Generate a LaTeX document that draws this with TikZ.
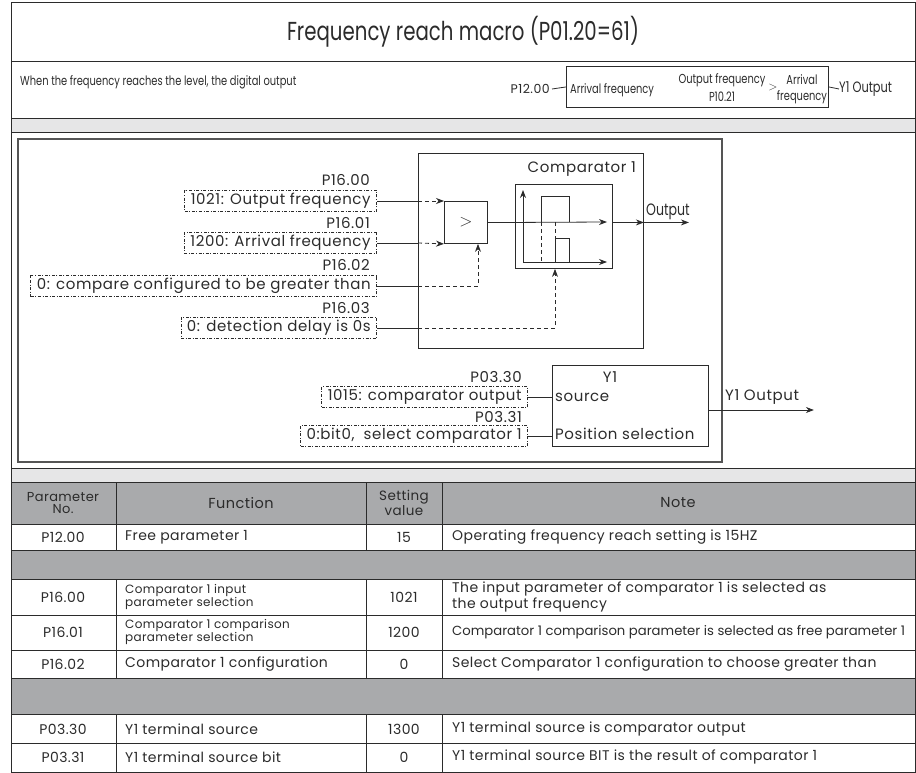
\documentclass[tikz,border=0pt]{standalone}
\usepackage{fontspec}
\setmainfont{Poppins}
\newfontfamily\condfont[FakeStretch=0.76]{Poppins}
\newfontfamily\diafont[LetterSpace=4]{Poppins}
\newfontfamily\tabfont[LetterSpace=3]{Poppins}
\newfontfamily\tabnarrow{Poppins}
\usetikzlibrary{arrows.meta,calc}
\definecolor{ink}{HTML}{2B2B2B}
\definecolor{lightband}{HTML}{E6E6E7}
\definecolor{darkband}{HTML}{A9AAAC}
\definecolor{framegray}{HTML}{555555}
\newcommand\myfs[1]{\fontsize{#1}{#1}\selectfont}
\begin{document}
\begin{tikzpicture}[x=1pt,y=-1pt, line join=miter,
  every node/.style={inner sep=0pt, text=ink},
  frame/.style={draw=ink, line width=1pt},
  conn/.style={draw=ink, line width=0.8pt},
  dconn/.style={conn, dash pattern=on 4pt off 3pt},
  tip/.style={-{Stealth[length=8pt,width=6pt]}},
  dbox/.style={draw=ink, line width=0.7pt, dash pattern=on 3pt off 1.6pt on 0.9pt off 1.6pt, inner xsep=6pt, minimum height=21pt, font=\diafont\myfs{15}},
  plabel/.style={anchor=east, font=\diafont\myfs{15}},
  dtext/.style={font=\diafont\myfs{15}},
  blk/.style={draw=ink, line width=0.9pt, anchor=north west},
  hdr/.style={font=\condfont\myfs{13}},
  cell/.style={font=\tabfont\myfs{14}},
  lcell/.style={font=\tabfont\myfs{14}, anchor=west},
  small/.style={font=\tabfont\fontsize{12}{11.5}\selectfont, anchor=west, align=left},
]
\useasboundingbox (0,0) rectangle (916,773);

% ---------- bands ----------
\fill[lightband] (11,119) rectangle (915,133);
\fill[lightband] (11,468) rectangle (915,482);
\fill[darkband] (11,482) rectangle (915,524);
\fill[darkband] (11,550) rectangle (915,579);
\fill[darkband] (11,678) rectangle (915,714);

% ---------- frame and rules ----------
\draw[frame] (11,3) rectangle (915,772);
\foreach \yy in {62,119,133,468,482,524,550,579,615,650,678,714,743}
  \draw[frame] (11,\yy) -- (915,\yy);
\foreach \xx in {116,366,442}{
  \draw[frame] (\xx,482) -- (\xx,550);
  \draw[frame] (\xx,579) -- (\xx,678);
  \draw[frame] (\xx,714) -- (\xx,772);
}
\draw[draw=framegray, line width=1.2pt] (18,139) rectangle (722,462);

% ---------- title ----------
\node[font=\condfont\myfs{26}] (title) at (463,32) {Frequency reach macro (P01.20=61)};

% ---------- header row ----------
\node[anchor=west, hdr] (intro) at (20,82) {When the frequency reaches the level, the digital output};
\node[anchor=east, font=\diafont\myfs{12.5}] (p1200) at (550,89) {P12.00};
\node[blk, minimum width=262pt, minimum height=41pt] (fbox) at (566,66) {};
\draw[conn] (p1200.east) ++(2,0) -- (fbox.west);
\node[anchor=west, hdr] (arr1) at (570,90) {Arrival frequency};
\node[hdr] (outf) at (722,80) {Output frequency};
\node[hdr] (p1021) at (722,97) {P10.21};
\node[hdr] (gtsym) at (773,88) {$>$};
\node[hdr] (arr2a) at (802,80) {Arrival};
\node[hdr] (arr2b) at (802,97) {frequency};
\node[anchor=west, font=\condfont\myfs{15}] (y1top) at (839,89) {Y1 Output};
\draw[conn] (fbox.east) -- (y1top.west);

% ---------- comparator ----------
\node[blk, minimum width=225pt, minimum height=195pt] (cmp) at (418,153) {};
\node[anchor=east, dtext] (cmplbl) at (636,169) {Comparator 1};
\node[blk, minimum width=43pt, minimum height=42pt] (gt) at (444,201) {};
\node[font=\myfs{17}] (gtch) at (gt.center) {$>$};
\node[blk, minimum width=97pt, minimum height=84pt] (hyst) at (515,184) {};

% inputs
\node[dbox, anchor=east] (b1) at (377,201) {1021: Output frequency};
\node[plabel] (l1) at (370,180) {P16.00};
\node[dbox, anchor=east] (b2) at (377,243) {1200: Arrival frequency};
\node[plabel] (l2) at (370,223) {P16.01};
\node[dbox, anchor=east] (b3) at (377,286) {0: compare configured to be greater than};
\node[plabel] (l3) at (370,265) {P16.02};
\node[dbox, anchor=east] (b4) at (377,328) {0: detection delay is 0s};
\node[plabel] (l4) at (370,308) {P16.03};

\draw[conn] (b1.east) -- (b1.east -| cmp.west);
\draw[dconn,tip] (b1.east -| cmp.west) -- (gt.north west);
\draw[conn] (b2.east) -- (b2.east -| cmp.west);
\draw[dconn,tip] (b2.east -| cmp.west) -- (gt.south west);
\coordinate (gtin) at ($(gt.south west)+(34,0)$);
\draw[conn] (b3.east) -- (b3.east -| cmp.west);
\draw[dconn,tip] (b3.east -| cmp.west) -- (b3.east -| gtin) -- (gtin);
\coordinate (hyin) at ($(hyst.south west)+(40,0)$);
\draw[conn] (b4.east) -- (b4.east -| cmp.west);
\draw[dconn,tip] (b4.east -| cmp.west) -- (b4.east -| hyin) -- (hyin);

% gt -> hysteresis
\coordinate (hyl) at (gt.east -| hyst.west);
\draw[conn] (gt.east) -- (hyl);
\draw[conn,tip] (523,262) -- (523,190);
\draw[conn,tip] (hyl) -- (607,222);
\draw[conn,tip] (523,262) -- (607,262);
\draw[conn] (541,222) -- (541,196) -- (569,196) -- (569,222);
\draw[dconn] (541,222) -- (541,262);
\draw[conn] (555,262) -- (555,238) -- (569,238) -- (569,262);
\draw[dconn] (555,222) -- (555,238);

% output
\coordinate (hyr) at (gt.east -| hyst.east);
\coordinate (cmpr) at (gt.east -| cmp.east);
\coordinate (outend) at ($(cmpr)+(45,0)$);
\draw[conn,tip] (hyr) -- (cmpr);
\draw[conn,tip] (cmpr) -- (outend);
\node[anchor=west, font=\condfont\myfs{16.5}] (outlbl) at (646,212) {Output};

% ---------- Y1 block ----------
\node[blk, minimum width=156pt, minimum height=81pt] (y1) at (552,365) {};
\node[dtext] (y1t) at (610,377) {Y1};
\node[dtext, anchor=west] (src) at (555,397) {source};
\node[dtext, anchor=west] (pos) at (555,434) {Position selection};
\node[dbox, anchor=east] (b5) at (528,397) {1015: comparator output};
\node[plabel] (l5) at (522,377) {P03.30};
\node[dbox, anchor=east] (b6) at (528,436) {0:bit0,\ \ select comparator 1};
\node[plabel] (l6) at (522,417) {P03.31};
\draw[conn] (b5.east) -- (b5.east -| y1.west);
\draw[conn] (b6.east) -- (b6.east -| y1.west);
\coordinate (y1o) at ($(y1.north east)+(0,45)$);
\coordinate (y1e) at ($(y1o)+(105,0)$);
\draw[conn,tip] (y1o) -- (y1e);
\node[dtext, anchor=west] (y1lbl) at (725,397) {Y1 Output};

% ---------- table ----------
\node[align=center, font=\tabfont\fontsize{13}{12.5}\selectfont] (h1) at (63,503) {Parameter\\No.};
\node[font=\tabfont\myfs{14.5}] (h2) at (241,503) {Function};
\node[align=center, font=\tabfont\fontsize{13.5}{12.5}\selectfont] (h3) at (404,503) {Setting\\value};
\node[font=\tabfont\myfs{14.5}] (h4) at (678,503) {Note};

\node[cell] (r1a) at (63,537) {P12.00};
\node[lcell] (r1b) at (125,537) {Free parameter 1};
\node[cell] (r1c) at (404,537) {15};
\node[lcell] (r1d) at (452,537) {Operating frequency reach setting is 15HZ};

\node[cell] (r2a) at (63,597) {P16.00};
\node[small] (r2b) at (125,597) {Comparator 1 input\\parameter selection};
\node[cell] (r2c) at (404,597) {1021};
\node[lcell, align=left, font=\tabfont\fontsize{14}{13.5}\selectfont] (r2d) at (452,597) {The input parameter of comparator 1 is selected as\\the output frequency};

\node[cell] (r3a) at (63,632) {P16.01};
\node[small] (r3b) at (125,632) {Comparator 1 comparison\\parameter selection};
\node[cell] (r3c) at (404,632) {1200};
\node[anchor=west, font=\tabnarrow\myfs{13.2}] (r3d) at (452,632) {Comparator 1 comparison parameter is selected as free parameter 1};

\node[cell] (r4a) at (63,664) {P16.02};
\node[lcell] (r4b) at (125,664) {Comparator 1 configuration};
\node[cell] (r4c) at (404,664) {0};
\node[lcell] (r4d) at (452,664) {Select Comparator 1 configuration to choose greater than};

\node[cell] (r5a) at (63,729) {P03.30};
\node[lcell] (r5b) at (125,729) {Y1 terminal source};
\node[cell] (r5c) at (404,729) {1300};
\node[lcell] (r5d) at (452,729) {Y1 terminal source is comparator output};

\node[cell] (r6a) at (63,757) {P03.31};
\node[lcell] (r6b) at (125,757) {Y1 terminal source bit};
\node[cell] (r6c) at (404,757) {0};
\node[lcell] (r6d) at (452,757) {Y1 terminal source BIT is the result of comparator 1};
\end{tikzpicture}
\end{document}
